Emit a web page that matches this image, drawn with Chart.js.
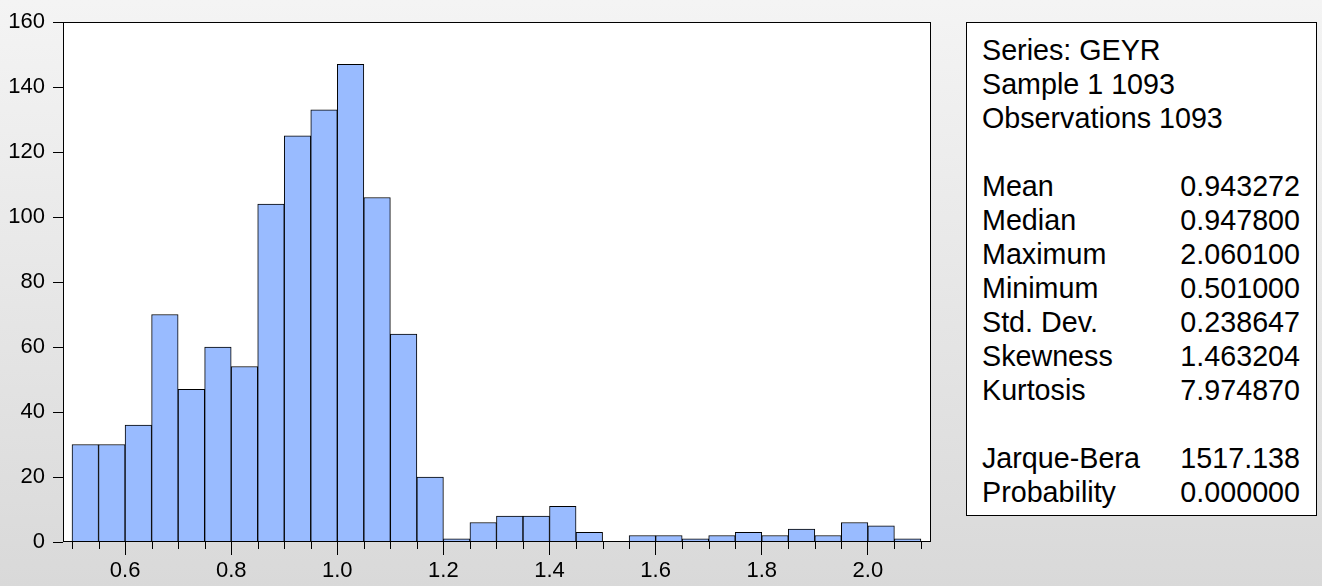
<!DOCTYPE html>
<html lang="en">
<head>
  <meta charset="UTF-8" />
  <title>Histogram GEYR</title>
  <script src="https://cdn.jsdelivr.net/npm/chart.js"></script>
  <style>
    html, body { margin: 0; padding: 0; }
    body {
      width: 1322px; height: 586px; overflow: hidden; position: relative;
      background: linear-gradient(#f4f4f4, #d9d9d9);
      font-family: Arial, "Liberation Sans", sans-serif;
    }
    #histChart { position: absolute; left: 0; top: 0; }
    #stats {
      position: absolute; left: 966px; top: 22px; width: 351px; height: 494px;
      box-sizing: border-box; border: 1px solid #000; background: #fff;
      padding: 10px 16px 0 15px; font-size: 28.7px; line-height: 34px; color: #000;
    }
    #stats .row { display: flex; justify-content: space-between; height: 34px; white-space: nowrap; }
  </style>
</head>
<body>

  <canvas id="histChart" width="945" height="586"></canvas>
  <div id="stats"></div>

  <script>
    // bins of width 0.05
    const binStart = [0.50, 0.55, 0.60, 0.65, 0.70, 0.75, 0.80, 0.85, 0.90, 0.95,
                      1.00, 1.05, 1.10, 1.15, 1.20, 1.25, 1.30, 1.35, 1.40, 1.45,
                      1.50, 1.55, 1.60, 1.65, 1.70, 1.75, 1.80, 1.85, 1.90, 1.95,
                      2.00, 2.05];
    const binWidth = 0.05;
    const counts = [30, 30, 36, 70, 47, 60, 54, 104, 125, 133,
                    147, 106, 64, 20, 1, 6, 8, 8, 11, 3,
                    0, 2, 2, 1, 2, 3, 2, 4, 2, 6,
                    5, 1];

    const headerLines = ['Series: GEYR', 'Sample 1 1093', 'Observations 1093'];
    const statNames = ['Mean', 'Median', 'Maximum', 'Minimum', 'Std. Dev.', 'Skewness', 'Kurtosis'];
    const statValues = ['0.943272', '0.947800', '2.060100', '0.501000', '0.238647', '1.463204', '7.974870'];
    const testNames = ['Jarque-Bera', 'Probability'];
    const testValues = ['1517.138', '0.000000'];

    // stats box
    const stats = document.getElementById('stats');
    function addRow(left, right) {
      const row = document.createElement('div');
      row.className = 'row';
      const a = document.createElement('span'); a.textContent = left;
      const b = document.createElement('span'); b.textContent = right || '';
      row.appendChild(a); row.appendChild(b);
      stats.appendChild(row);
    }
    headerLines.forEach(l => addRow(l));
    addRow('');
    statNames.forEach((n, i) => addRow(n, statValues[i]));
    addRow('');
    testNames.forEach((n, i) => addRow(n, testValues[i]));

    const isMajor = v => Math.abs(v / 0.2 - Math.round(v / 0.2)) < 1e-6;

    const framePlugin = {
      id: 'frame',
      beforeDraw(chart) {
        const a = chart.chartArea, ctx = chart.ctx;
        ctx.save();
        ctx.fillStyle = '#ffffff';
        ctx.fillRect(a.left, a.top, a.right - a.left, a.bottom - a.top);
        ctx.restore();
      },
      afterDraw(chart) {
        const a = chart.chartArea, ctx = chart.ctx, x = chart.scales.x;
        ctx.save();
        ctx.strokeStyle = '#000';
        ctx.lineWidth = 1;
        ctx.strokeRect(Math.round(a.left) + 0.5, Math.round(a.top) + 0.5,
                       Math.round(a.right - a.left) - 1, Math.round(a.bottom - a.top) - 1);
        // minor ticks
        ctx.beginPath();
        x.ticks.forEach(t => {
          if (isMajor(t.value)) return;
          const px = Math.round(x.getPixelForValue(t.value)) + 0.5;
          ctx.moveTo(px, a.bottom);
          ctx.lineTo(px, a.bottom + 7);
        });
        ctx.stroke();
        ctx.restore();
      }
    };

    const ctx = document.getElementById('histChart').getContext('2d');
    new Chart(ctx, {
      type: 'bar',
      data: {
        datasets: [{
          data: binStart.map((s, i) => ({ x: s + binWidth / 2, y: counts[i] })),
          backgroundColor: '#99bbff',
          borderColor: '#000000',
          borderWidth: 1,
          borderSkipped: 'start',
          barPercentage: 1,
          categoryPercentage: 1
        }]
      },
      options: {
        responsive: false,
        animation: false,
        devicePixelRatio: 1,
        layout: { padding: { top: 22, right: 14, left: 0, bottom: 0 } },
        plugins: { legend: { display: false }, tooltip: { enabled: false } },
        scales: {
          x: {
            type: 'linear',
            min: 0.483,
            max: 2.119,
            offset: false,
            afterFit: s => { s.height = 44; },
            grid: {
              offset: false,
              drawOnChartArea: false,
              tickLength: 13,
              tickColor: c => (c.tick && isMajor(c.tick.value)) ? '#000' : 'rgba(0,0,0,0)'
            },
            border: { display: false },
            ticks: {
              stepSize: 0.05,
              includeBounds: false,
              autoSkip: false,
              maxRotation: 0,
              padding: 3,
              color: '#000',
              font: { family: 'Arial, "Liberation Sans", sans-serif', size: 22 },
              callback: v => isMajor(v) ? v.toFixed(1) : ''
            }
          },
          y: {
            min: 0,
            max: 160,
            afterFit: s => { s.width = 63; },
            grid: { drawOnChartArea: false, tickLength: 10, tickColor: '#000' },
            border: { display: false },
            ticks: {
              stepSize: 20,
              padding: 8,
              color: '#000',
              font: { family: 'Arial, "Liberation Sans", sans-serif', size: 22 }
            }
          }
        }
      },
      plugins: [framePlugin]
    });
  </script>

</body>
</html>
